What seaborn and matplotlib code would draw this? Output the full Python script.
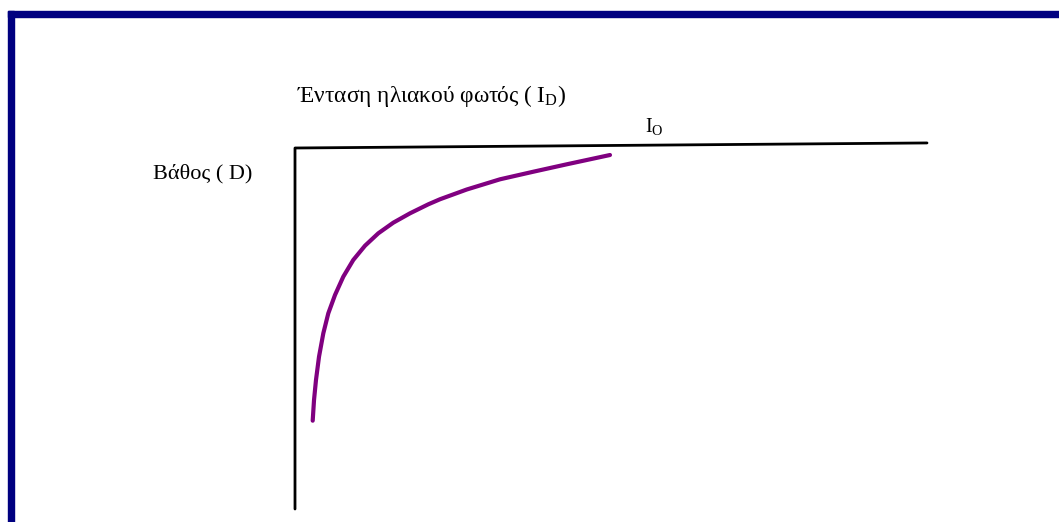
import matplotlib
matplotlib.use("Agg")
import matplotlib.pyplot as plt
from matplotlib.patches import Rectangle
import pandas as pd
import seaborn as sns

# light intensity (x) vs depth (y), schematic units
intensity = [2.80, 3.01, 3.32, 3.80, 4.48, 5.27, 6.33, 7.64, 9.22, 11.08,
             13.18, 15.55, 18.20, 21.09, 22.94, 27.17, 32.44, 37.71, 42.99, 49.84]
depth = [75.54, 69.81, 64.27, 57.81, 51.33, 45.79, 40.72, 35.65, 31.02, 27.06,
         23.63, 20.69, 18.09, 15.60, 14.20, 11.50, 8.67, 6.57, 4.52, 1.94]

axis_x = [0, 0, 100]
axis_y = [100, 0, -1.4]

title_txt = "Ένταση ηλιακού φωτός ( I$_\\mathrm{D}$)"
io_txt = "I$_\\mathrm{O}$"
depth_txt = "Βάθος ( D)"

sns.set_style("white")
plt.rcParams['font.family'] = ['Liberation Serif', 'DejaVu Serif']
plt.rcParams['mathtext.fontset'] = 'custom'
plt.rcParams['mathtext.rm'] = 'Liberation Serif'
plt.rcParams['text.color'] = 'black'

W, H = 1059, 522
fig = plt.figure(figsize=(W / 100, H / 100), dpi=100)
ax = fig.add_axes([0, 0, 1, 1])

curve_df = pd.DataFrame({"I": intensity, "D": depth})
axes_df = pd.DataFrame({"x": axis_x, "y": axis_y})

sns.lineplot(data=axes_df, x="x", y="y", sort=False, estimator=None, errorbar=None,
             color="black", lw=2, ax=ax)
sns.lineplot(data=curve_df, x="I", y="D", sort=False, estimator=None, errorbar=None,
             color="#800080", lw=3, ax=ax)

# pixel mapping: x 0 -> 295px, 100 -> 927px ; y 0 -> 148px, 100 -> 509px
sx = (927 - 295) / 100
sy = (509 - 148) / 100
ax.set_xlim(-295 / sx, (W - 295) / sx)
ax.set_ylim((H - 148) / sy, -148 / sy)
ax.axis("off")

# navy frame on top and left
fig.patches.append(Rectangle((8 / W, 1 - 17 / H), 1, 6 / H, transform=fig.transFigure,
                             color="#000080", zorder=5))
fig.patches.append(Rectangle((8 / W, 0), 6 / W, 1 - 11 / H, transform=fig.transFigure,
                             color="#000080", zorder=5))

fig.text(297 / W, 1 - 102 / H, title_txt, fontsize=16.8, ha="left", va="baseline")
fig.text(645 / W, 1 - 133 / H, io_txt, fontsize=14.5, ha="left", va="baseline")
fig.text(153 / W, 1 - 178 / H, depth_txt, fontsize=16, ha="left", va="baseline")

fig.savefig("out.png", dpi=100)
